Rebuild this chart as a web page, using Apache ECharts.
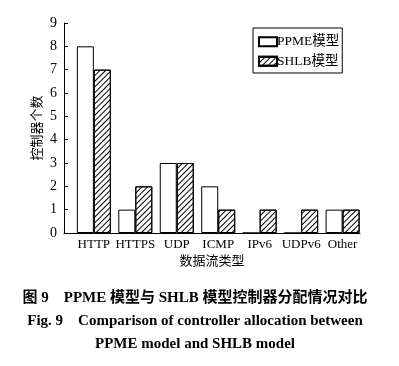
<!DOCTYPE html>
<html>
<head>
<meta charset="utf-8">
<script src="https://cdn.jsdelivr.net/npm/echarts@6/dist/echarts.min.js"></script>
<style>html,body{margin:0;padding:0;background:#fff;}#c{width:399px;height:366px;}</style>
</head>
<body>
<div id="c"></div>
<script>
var categories = ['HTTP', 'HTTPS', 'UDP', 'ICMP', 'IPv6', 'UDPv6', 'Other'];
var ppme = [8, 1, 3, 2, 0, 0, 1];
var shlb = [7, 2, 3, 1, 1, 1, 1];
var yTicks = [0, 1, 2, 3, 4, 5, 6, 7, 8, 9];
var seriesNames = ['PPME模型', 'SHLB模型'];
var captionLines = [
  '图 9    PPME 模型与 SHLB 模型控制器分配情况对比',
  'Fig. 9    Comparison of controller allocation between',
  'PPME model and SHLB model'
];

var FONT = "'Liberation Serif', 'Times New Roman', 'Noto Sans CJK SC', serif";
var chart = echarts.init(document.getElementById('c'), null, {renderer: 'canvas'});

function toPts(arr) { return arr.map(function (v, i) { return [i, v]; }); }

var hatch = {
  symbol: 'rect', symbolSize: 1, color: '#000',
  dashArrayX: [1, 0], dashArrayY: [1, 2.6], rotation: -Math.PI / 4
};

var capTops = [298, 321, 344];
var graphics = captionLines.map(function (t, i) {
  return {
    type: 'text', x: 195, y: capTops[i],
    style: {text: t, textAlign: 'center', textVerticalAlign: 'middle',
      font: 'bold 15px ' + FONT, fill: '#000'}
  };
});

chart.setOption({
  backgroundColor: '#fff',
  animation: false,
  graphic: graphics,
  grid: {left: 64, right: 39, top: 23, bottom: 133},
  legend: {
    orient: 'vertical', left: 253, top: 28,
    icon: 'rect', itemWidth: 18, itemHeight: 9, itemGap: 6,
    padding: [7, 3, 5, 5],
    borderColor: '#000', borderWidth: 1, borderRadius: 0,
    data: seriesNames,
    textStyle: {fontSize: 13.5, color: '#000', fontFamily: FONT, padding: [0, 0, 0, -5]}
  },
  xAxis: {
    type: 'value', min: -0.72, max: 6.42,
    name: '数据流类型', nameLocation: 'middle', nameGap: 22, nameMoveOverlap: false,
    nameTextStyle: {fontSize: 13, color: '#000', fontFamily: FONT},
    splitLine: {show: false},
    axisLine: {show: true, onZero: false, lineStyle: {color: '#000', width: 1}},
    axisTick: {show: false},
    axisLabel: {
      customValues: [0, 1, 2, 3, 4, 5, 6], margin: 5,
      fontSize: 13, color: '#000', fontFamily: FONT,
      formatter: function (v) { return categories[Math.round(v)] || ''; }
    }
  },
  yAxis: {
    type: 'value', min: 0, max: 9, interval: 1,
    name: '控制器个数', nameLocation: 'middle', nameGap: 20, nameMoveOverlap: false,
    nameTextStyle: {fontSize: 13, color: '#000', fontFamily: FONT},
    splitLine: {show: false},
    axisLine: {show: true, onZero: false, lineStyle: {color: '#000', width: 1}},
    axisTick: {show: true, inside: true, length: 4, lineStyle: {color: '#000'}},
    axisLabel: {fontSize: 14, color: '#000', fontFamily: FONT, margin: 7,
      formatter: function (v) { return yTicks.indexOf(v) >= 0 ? String(v) : ''; }}
  },
  series: [
    {name: seriesNames[0], type: 'bar', barWidth: 17, barGap: '0%',
     itemStyle: {color: '#fff', borderColor: '#000', borderWidth: 1},
     data: toPts(ppme)},
    {name: seriesNames[1], type: 'bar', barWidth: 17, barGap: '0%',
     itemStyle: {color: '#fff', borderColor: '#000', borderWidth: 1, decal: hatch},
     data: toPts(shlb)}
  ]
});
</script>
</body>
</html>
